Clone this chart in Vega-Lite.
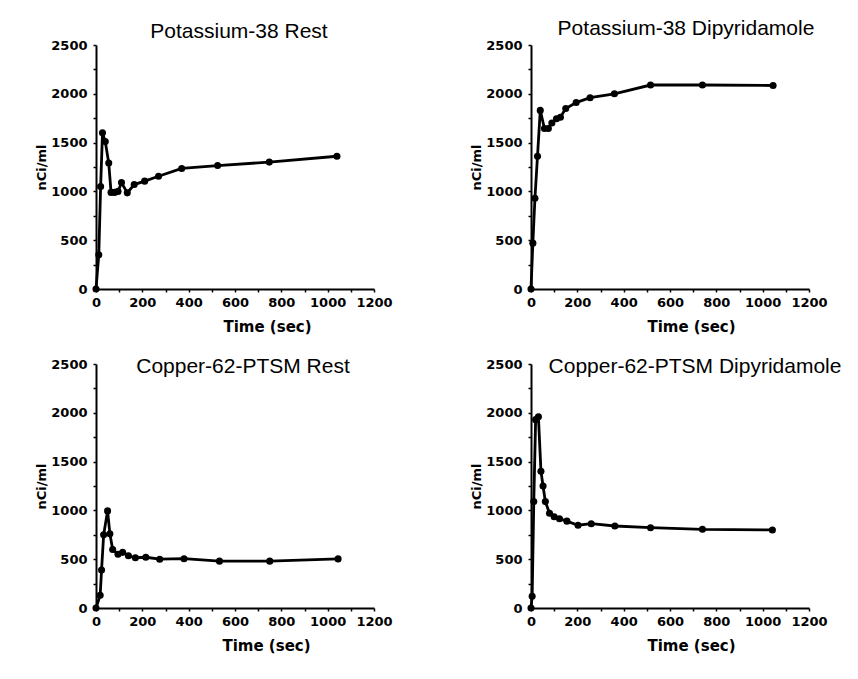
{
  "$schema": "https://vega.github.io/schema/vega-lite/v6.json",
  "background": "white",
  "padding": {"left": 35, "top": 18, "right": 5, "bottom": 5},
  "datasets": {
    "k_rest": [
      {"t": 0, "v": 0}, {"t": 12, "v": 350}, {"t": 20, "v": 1050}, {"t": 28, "v": 1600},
      {"t": 40, "v": 1510}, {"t": 55, "v": 1290}, {"t": 65, "v": 990}, {"t": 80, "v": 990},
      {"t": 95, "v": 1000}, {"t": 110, "v": 1090}, {"t": 135, "v": 985}, {"t": 165, "v": 1070},
      {"t": 210, "v": 1105}, {"t": 270, "v": 1155}, {"t": 370, "v": 1235}, {"t": 525, "v": 1265},
      {"t": 748, "v": 1300}, {"t": 1040, "v": 1360}
    ],
    "k_dip": [
      {"t": 0, "v": 0}, {"t": 8, "v": 470}, {"t": 17, "v": 930}, {"t": 28, "v": 1360},
      {"t": 40, "v": 1830}, {"t": 58, "v": 1645}, {"t": 75, "v": 1645}, {"t": 90, "v": 1700},
      {"t": 110, "v": 1745}, {"t": 127, "v": 1760}, {"t": 150, "v": 1850}, {"t": 195, "v": 1910},
      {"t": 255, "v": 1960}, {"t": 360, "v": 2000}, {"t": 516, "v": 2090}, {"t": 740, "v": 2090},
      {"t": 1045, "v": 2085}
    ],
    "c_rest": [
      {"t": 0, "v": 0}, {"t": 18, "v": 130}, {"t": 24, "v": 390}, {"t": 33, "v": 750},
      {"t": 50, "v": 995}, {"t": 60, "v": 760}, {"t": 72, "v": 600}, {"t": 95, "v": 550},
      {"t": 115, "v": 570}, {"t": 140, "v": 535}, {"t": 170, "v": 515}, {"t": 215, "v": 520},
      {"t": 275, "v": 500}, {"t": 380, "v": 505}, {"t": 533, "v": 480}, {"t": 750, "v": 480},
      {"t": 1045, "v": 503}
    ],
    "c_dip": [
      {"t": 0, "v": 0}, {"t": 5, "v": 120}, {"t": 12, "v": 1090}, {"t": 20, "v": 1930},
      {"t": 32, "v": 1960}, {"t": 43, "v": 1400}, {"t": 52, "v": 1250}, {"t": 62, "v": 1090},
      {"t": 80, "v": 970}, {"t": 100, "v": 935}, {"t": 123, "v": 915}, {"t": 155, "v": 890},
      {"t": 203, "v": 848}, {"t": 260, "v": 864}, {"t": 362, "v": 840}, {"t": 516, "v": 823},
      {"t": 740, "v": 806}, {"t": 1042, "v": 800}
    ]
  },
  "config": {
    "view": {"stroke": null},
    "axis": {
      "grid": false, "domainColor": "black", "domainWidth": 2,
      "tickColor": "black", "tickWidth": 1.5, "tickSize": 3,
      "labelFont": "DejaVu Sans", "labelFontWeight": "bold", "labelFontSize": 13, "labelColor": "black",
      "titleFont": "DejaVu Sans", "titleFontWeight": "bold", "titleColor": "black",
      "labelOverlap": false, "labelFlush": false
    },
    "title": {"font": "Liberation Sans", "fontSize": 21, "fontWeight": "normal", "color": "black", "baseline": "alphabetic", "anchor": "middle", "frame": "group"}
  },
  "columns": 2,
  "spacing": {"column": 157, "row": 75},
  "bounds": "flush",
  "concat": [
    {
      "width": 278, "height": 244,
      "title": {"text": "Potassium-38 Rest", "offset": -3, "dx": 4},
      "data": {"name": "k_rest"},
      "encoding": {
        "x": {"field": "t", "type": "quantitative", "scale": {"domain": [0, 1200], "nice": false},
          "axis": {"values": [0,100,200,300,400,500,600,700,800,900,1000,1100,1200], "format": "d", "labelExpr": "datum.value % 200 === 0 ? datum.label : ''", "title": "Time  (sec)", "titleX": 171, "titlePadding": 10, "labelPadding": 4, "titleFontSize": 15}},
        "y": {"field": "v", "type": "quantitative", "scale": {"domain": [0, 2500], "nice": false},
          "axis": {"values": [0,250,500,750,1000,1250,1500,1750,2000,2250,2500], "format": "d", "labelExpr": "datum.value % 500 === 0 ? datum.label : ''", "title": "nCi/ml", "titleFontSize": 13, "titlePadding": 2, "labelPadding": 6}}
      },
      "layer": [
        {"mark": {"type": "line", "color": "black", "strokeWidth": 2.8}},
        {"mark": {"type": "point", "filled": true, "color": "black", "size": 50, "opacity": 1}}
      ]
    },
    {
      "width": 278, "height": 244,
      "title": {"text": "Potassium-38 Dipyridamole", "offset": 0, "dx": 16},
      "data": {"name": "k_dip"},
      "encoding": {
        "x": {"field": "t", "type": "quantitative", "scale": {"domain": [0, 1200], "nice": false},
          "axis": {"values": [0,100,200,300,400,500,600,700,800,900,1000,1100,1200], "format": "d", "labelExpr": "datum.value % 200 === 0 ? datum.label : ''", "title": "Time  (sec)", "titleX": 160, "titlePadding": 10, "labelPadding": 4, "titleFontSize": 15}},
        "y": {"field": "v", "type": "quantitative", "scale": {"domain": [0, 2500], "nice": false},
          "axis": {"values": [0,250,500,750,1000,1250,1500,1750,2000,2250,2500], "format": "d", "labelExpr": "datum.value % 500 === 0 ? datum.label : ''", "title": "nCi/ml", "titleFontSize": 13, "titlePadding": 2, "labelPadding": 6}}
      },
      "layer": [
        {"mark": {"type": "line", "color": "black", "strokeWidth": 2.8}},
        {"mark": {"type": "point", "filled": true, "color": "black", "size": 50, "opacity": 1}}
      ]
    },
    {
      "width": 278, "height": 244,
      "title": {"text": "Copper-62-PTSM  Rest", "offset": -19, "dx": 8},
      "data": {"name": "c_rest"},
      "encoding": {
        "x": {"field": "t", "type": "quantitative", "scale": {"domain": [0, 1200], "nice": false},
          "axis": {"values": [0,100,200,300,400,500,600,700,800,900,1000,1100,1200], "format": "d", "labelExpr": "datum.value % 200 === 0 ? datum.label : ''", "title": "Time  (sec)", "titleX": 170, "titlePadding": 10, "labelPadding": 4, "titleFontSize": 15}},
        "y": {"field": "v", "type": "quantitative", "scale": {"domain": [0, 2500], "nice": false},
          "axis": {"values": [0,250,500,750,1000,1250,1500,1750,2000,2250,2500], "format": "d", "labelExpr": "datum.value % 500 === 0 ? datum.label : ''", "title": "nCi/ml", "titleFontSize": 13, "titlePadding": 2, "labelPadding": 6}}
      },
      "layer": [
        {"mark": {"type": "line", "color": "black", "strokeWidth": 2.8}},
        {"mark": {"type": "point", "filled": true, "color": "black", "size": 50, "opacity": 1}}
      ]
    },
    {
      "width": 278, "height": 244,
      "title": {"text": "Copper-62-PTSM  Dipyridamole", "offset": -19, "dx": 25},
      "data": {"name": "c_dip"},
      "encoding": {
        "x": {"field": "t", "type": "quantitative", "scale": {"domain": [0, 1200], "nice": false},
          "axis": {"values": [0,100,200,300,400,500,600,700,800,900,1000,1100,1200], "format": "d", "labelExpr": "datum.value % 200 === 0 ? datum.label : ''", "title": "Time  (sec)", "titleX": 160, "titlePadding": 10, "labelPadding": 4, "titleFontSize": 15}},
        "y": {"field": "v", "type": "quantitative", "scale": {"domain": [0, 2500], "nice": false},
          "axis": {"values": [0,250,500,750,1000,1250,1500,1750,2000,2250,2500], "format": "d", "labelExpr": "datum.value % 500 === 0 ? datum.label : ''", "title": "nCi/ml", "titleFontSize": 13, "titlePadding": 2, "labelPadding": 6}}
      },
      "layer": [
        {"mark": {"type": "line", "color": "black", "strokeWidth": 2.8}},
        {"mark": {"type": "point", "filled": true, "color": "black", "size": 50, "opacity": 1}}
      ]
    }
  ]
}
